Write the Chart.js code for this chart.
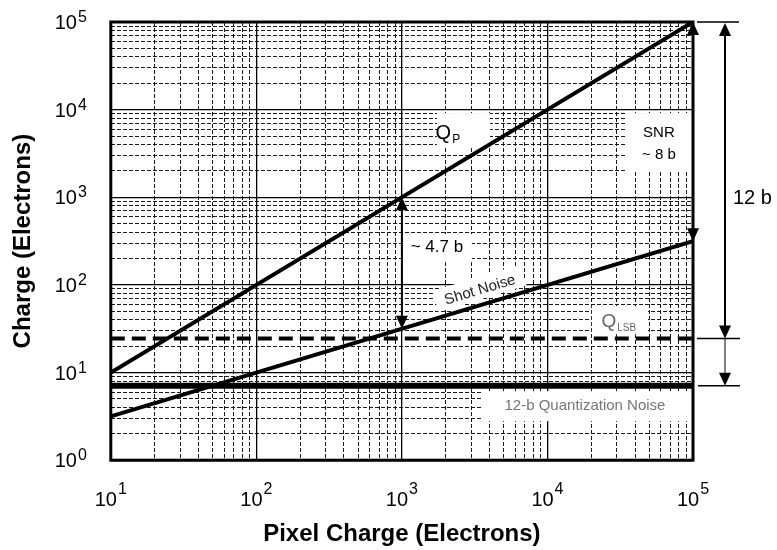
<!DOCTYPE html>
<html>
<head>
<meta charset="utf-8">
<script src="https://cdn.jsdelivr.net/npm/chart.js@4.4.0/dist/chart.umd.min.js"></script>
<style>
  html, body { margin: 0; padding: 0; background: #fff; }
  #wrap { width: 777px; height: 550px; }
</style>
</head>
<body>
<div id="wrap"><canvas id="noiseChart"></canvas></div>
<script>
// axis decades and tick exponents
const xDecades = [10, 100, 1000, 10000, 100000];
const yDecades = [1, 10, 100, 1000, 10000, 100000];
const xExponents = ['1', '2', '3', '4', '5'];
const yExponents = ['0', '1', '2', '3', '4', '5'];
const minorSteps = [1, 2, 3, 4, 5, 6, 7, 8, 9];

// series (pixel charge -> electrons)
const pixelCharge = [10, 100000];
const signalQp = [10, 100000];
const shotNoise = [3.16, 316];
const lsbLevel = [24.4, 24.4];
const quantNoise = [7.05, 7.05];

// dimension arrows: [x, yFrom, yTo]
const snrArrow = [100000, 100000, 316];
const gapArrow = [1000, 1000, 31.6];
const rangeLevels = [100000, 24.4, 7.05];

const FONT = '"Liberation Sans", Arial, Helvetica, sans-serif';

function gridTicks(decades) {
  const out = [];
  decades.forEach((d, i) => {
    if (i === decades.length - 1) { out.push({ value: d }); return; }
    minorSteps.forEach(s => out.push({ value: d * s }));
  });
  return out;
}

function isDecade(v) {
  const l = Math.log10(v);
  return Math.abs(l - Math.round(l)) < 1e-6;
}

function pts(ys) {
  return pixelCharge.map((x, i) => ({ x: x, y: ys[i] }));
}

// white label backgrounds: [x0, x1, y0, y1] in data units
const whiteBoxes = [
  [1740, 4030, 9140, 3650],
  [35200, 99000, 9140, 1940],
  [1050, 3030, 380, 182],
  [20200, 49100, 57.3, 27.4],
  [3550, 99000, 6.13, 2.79]
];

function arrowHead(ctx, x, y, dir) {
  ctx.beginPath();
  ctx.moveTo(x, y);
  ctx.lineTo(x - 6, y - dir * 13);
  ctx.lineTo(x + 6, y - dir * 13);
  ctx.closePath();
  ctx.fill();
}

function subText(ctx, x, y, main, sub, mainSize, subSize, color) {
  ctx.fillStyle = color;
  ctx.textAlign = 'left';
  ctx.textBaseline = 'alphabetic';
  ctx.font = mainSize + 'px ' + FONT;
  const w = ctx.measureText(main).width;
  ctx.font = subSize + 'px ' + FONT;
  const sw = ctx.measureText(sub).width;
  const x0 = x - (w + sw + 1) / 2;
  ctx.font = mainSize + 'px ' + FONT;
  ctx.fillText(main, x0, y + mainSize * 0.36);
  ctx.font = subSize + 'px ' + FONT;
  ctx.fillText(sub, x0 + w + 1, y + mainSize * 0.36 + subSize * 0.35);
}

const overlay = {
  id: 'overlay',
  beforeDatasetsDraw(chart) {
    const ctx = chart.ctx, xs = chart.scales.x, ys = chart.scales.y;
    ctx.save();
    ctx.fillStyle = '#fff';
    whiteBoxes.forEach(b => {
      const x0 = xs.getPixelForValue(b[0]), x1 = xs.getPixelForValue(b[1]);
      const y0 = ys.getPixelForValue(b[2]), y1 = ys.getPixelForValue(b[3]);
      ctx.fillRect(x0, y0, x1 - x0, y1 - y0);
    });
    // box along the shot noise line
    const a = Math.atan2(ys.getPixelForValue(shotNoise[1]) - ys.getPixelForValue(shotNoise[0]),
      xs.getPixelForValue(pixelCharge[1]) - xs.getPixelForValue(pixelCharge[0]));
    ctx.translate(xs.getPixelForValue(3440), ys.getPixelForValue(87.3));
    ctx.rotate(a);
    ctx.fillRect(-46, -13, 92, 22);
    ctx.restore();
  },
  afterDatasetsDraw(chart) {
    const ctx = chart.ctx, xs = chart.scales.x, ys = chart.scales.y;
    const area = chart.chartArea;
    ctx.save();

    // frame
    ctx.strokeStyle = '#000';
    ctx.lineWidth = 3;
    ctx.strokeRect(area.left, area.top, area.right - area.left, area.bottom - area.top);

    // arrows inside plot
    ctx.fillStyle = '#000';
    ctx.lineWidth = 2;
    [snrArrow, gapArrow].forEach(ar => {
      const x = xs.getPixelForValue(ar[0]);
      const yt = ys.getPixelForValue(ar[1]), yb = ys.getPixelForValue(ar[2]);
      ctx.beginPath(); ctx.moveTo(x, yt + 6); ctx.lineTo(x, yb - 6); ctx.stroke();
      arrowHead(ctx, x, yt, -1);
      arrowHead(ctx, x, yb, 1);
    });

    // range arrows right of plot
    const rx = area.right + 32;
    const yTop = ys.getPixelForValue(rangeLevels[0]);
    const yMid = ys.getPixelForValue(rangeLevels[1]);
    const yLow = ys.getPixelForValue(rangeLevels[2]);
    ctx.lineWidth = 1.5;
    ctx.beginPath();
    ctx.moveTo(area.right + 4, yTop); ctx.lineTo(area.right + 46, yTop);
    ctx.moveTo(area.right + 4, yMid); ctx.lineTo(area.right + 47, yMid);
    ctx.moveTo(area.right + 5, yLow); ctx.lineTo(area.right + 47, yLow);
    ctx.stroke();
    ctx.lineWidth = 2;
    ctx.beginPath(); ctx.moveTo(rx, yTop + 6); ctx.lineTo(rx, yMid - 6); ctx.stroke();
    arrowHead(ctx, rx, yTop + 1, -1);
    arrowHead(ctx, rx, yMid, 1);
    ctx.lineWidth = 1;
    ctx.beginPath(); ctx.moveTo(rx, yMid); ctx.lineTo(rx, yLow - 6); ctx.stroke();
    arrowHead(ctx, rx, yLow, 1);

    ctx.fillStyle = '#000';
    ctx.font = '20px ' + FONT;
    ctx.textAlign = 'left';
    ctx.textBaseline = 'alphabetic';
    ctx.fillText('12 b', rx + 8, 204);

    // labels
    subText(ctx, xs.getPixelForValue(2070), ys.getPixelForValue(5550), 'Q', 'P', 20, 12, '#000');
    subText(ctx, xs.getPixelForValue(24800) + 14, ys.getPixelForValue(39.6), 'Q', 'LSB', 19, 10, '#666');

    ctx.fillStyle = '#000';
    ctx.textAlign = 'center';
    ctx.textBaseline = 'middle';
    ctx.font = '15px ' + FONT;
    ctx.fillText('SNR', xs.getPixelForValue(58300), ys.getPixelForValue(5400));
    ctx.fillText('~ 8 b', xs.getPixelForValue(58300), ys.getPixelForValue(3030));
    ctx.font = '17px ' + FONT;
    ctx.fillText('~ 4.7 b', xs.getPixelForValue(1740), ys.getPixelForValue(270));

    ctx.fillStyle = '#777';
    ctx.font = '15px ' + FONT;
    ctx.fillText('12-b Quantization Noise', xs.getPixelForValue(18100), ys.getPixelForValue(4.13));

    ctx.save();
    const a = Math.atan2(ys.getPixelForValue(shotNoise[1]) - ys.getPixelForValue(shotNoise[0]),
      xs.getPixelForValue(pixelCharge[1]) - xs.getPixelForValue(pixelCharge[0]));
    ctx.translate(xs.getPixelForValue(3440), ys.getPixelForValue(87.3));
    ctx.rotate(a);
    ctx.fillStyle = '#222';
    ctx.font = '15px ' + FONT;
    ctx.fillText('Shot Noise', 0, 0);
    ctx.restore();

    // tick labels 10^n
    ctx.fillStyle = '#000';
    ctx.textBaseline = 'alphabetic';
    xDecades.forEach((v, i) => {
      const x = xs.getPixelForValue(v);
      ctx.font = '20px ' + FONT;
      const w = ctx.measureText('10').width;
      ctx.font = '16px ' + FONT;
      const sw = ctx.measureText(xExponents[i]).width;
      const x0 = x - (w + sw + 1) / 2;
      ctx.textAlign = 'left';
      ctx.font = '20px ' + FONT;
      ctx.fillText('10', x0, area.bottom + 46);
      ctx.font = '16px ' + FONT;
      ctx.fillText(xExponents[i], x0 + w + 1, area.bottom + 34);
    });
    yDecades.forEach((v, i) => {
      const y = ys.getPixelForValue(v);
      ctx.font = '16px ' + FONT;
      const sw = ctx.measureText(yExponents[i]).width;
      const xr = area.left - 24;
      ctx.textAlign = 'left';
      ctx.fillText(yExponents[i], xr - sw, y);
      ctx.textAlign = 'right';
      ctx.font = '20px ' + FONT;
      ctx.fillText('10', xr - sw - 1, y + 7);
    });

    ctx.restore();
  }
};

function axisGrid(decades) {
  return {
    afterBuildTicks: scale => { scale.ticks = gridTicks(decades); },
    grid: {
      drawTicks: false,
      color: ctx => (ctx.tick && isDecade(ctx.tick.value)) ? '#000' : '#1a1a1a',
      lineWidth: ctx => (ctx.tick && isDecade(ctx.tick.value)) ? 1.3 : 1
    },
    border: {
      display: false,
      dash: ctx => (ctx.tick && !isDecade(ctx.tick.value)) ? [4, 2] : []
    },
    ticks: { display: false }
  };
}

new Chart(document.getElementById('noiseChart'), {
  type: 'line',
  data: {
    datasets: [
      { label: 'Q_P', data: pts(signalQp), borderColor: '#000', borderWidth: 4, pointRadius: 0 },
      { label: 'Shot Noise', data: pts(shotNoise), borderColor: '#000', borderWidth: 4, pointRadius: 0 },
      { label: 'Q_LSB', data: pts(lsbLevel), borderColor: '#000', borderWidth: 4, borderDash: [14, 7], pointRadius: 0 },
      { label: '12-b Quantization Noise', data: pts(quantNoise), borderColor: '#000', borderWidth: 6, pointRadius: 0 }
    ]
  },
  options: {
    responsive: true,
    maintainAspectRatio: false,
    animation: false,
    layout: { padding: { left: 0, right: 84, top: 22, bottom: 0 } },
    plugins: { legend: { display: false }, tooltip: { enabled: false } },
    scales: {
      x: Object.assign({
        type: 'logarithmic',
        min: 10,
        max: 100000,
        position: 'bottom',
        title: {
          display: true,
          text: 'Pixel Charge (Electrons)',
          color: '#000',
          font: { family: FONT, size: 24, weight: 'bold' },
          padding: { top: 60, bottom: 1 }
        }
      }, axisGrid(xDecades)),
      y: Object.assign({
        type: 'logarithmic',
        min: 1,
        max: 100000,
        position: 'left',
        title: {
          display: true,
          text: 'Charge (Electrons)',
          color: '#000',
          font: { family: FONT, size: 24, weight: 'bold' },
          padding: { top: 9, bottom: 73 }
        }
      }, axisGrid(yDecades))
    }
  },
  plugins: [overlay]
});
</script>
</body>
</html>
